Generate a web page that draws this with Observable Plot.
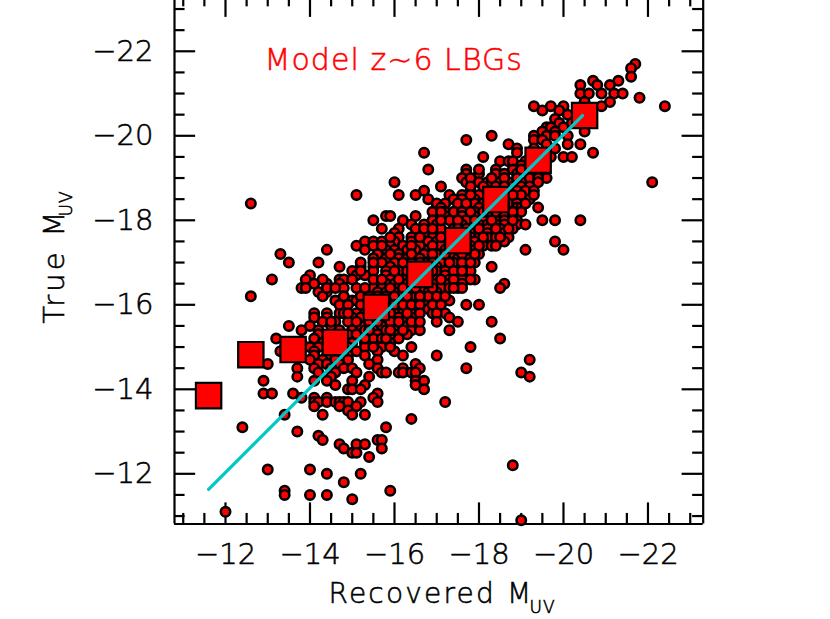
<!DOCTYPE html>
<html><head><meta charset="utf-8">
<script src="https://cdn.jsdelivr.net/npm/d3@7"></script>
<script src="https://cdn.jsdelivr.net/npm/@observablehq/plot@0.6"></script>
<style>
html,body{margin:0;padding:0;background:#fff}
svg{display:block}
svg text{font-weight:200;stroke:#000;stroke-width:.55px}
</style></head><body><div id="c"></div>
<script>
// Scatter: row of True M (tenths of a magnitude, negated) -> Recovered M values
const trueRows = [217,216,214,213,212,210,209,208,207,206,205,204,203,202,201,200,199,198,197,196,195,194,193,192,191,190,189,188,187,186,185,184,183,182,181,180,179,178,177,176,175,174,173,172,171,170,169,168,167,166,165,164,163,162,161,160,159,158,157,156,155,154,153,152,151,150,149,148,147,146,145,144,143,142,141,140,139,138,137,136,135,134,133,131,130,129,128,127,126,125,124,122,121,120,118,116,115,114,111,109];
const recoveredRows = [
[217],[216],[216],[207,213],[204,208,211],[204,206,209,212,214],[218],[205,211],[193,197,200,209,224],[195,199],[201,206],[198,205],[199,202],[196,197,200],[195,198,205],[183,193,196,198,201],[177,193,195],[187,196,201,204],[189,198,193],[167,189,207],[181,197,200,202],[185,187,188,191,194],[190,192,195],[168,177,184,188],[177,180,184,186,189,192],[176,192,196,194],[160,177,180,182,183,185,187,190,194,221],[171,188,190,192],[167,178,182,185,189,191,193],[151,161,165,173,176,180,183,187,190],[168,174,176,179,182,185,188,192],[126,170,172,175,179,181,184,187,189],[171,177,180,183,186,189,190,194],[169,172,174,176,179,182,185,187,190],[158,159,165,172,176,179,183,186,188],[155,162,169,173,177,181,184,186,189,195,198,204],[164,167,170,176,180,182,184,186,189,191],[157,161,165,171,174,177,179,182,185,188],[160,168,173,176,178,180,182,184,186],[161,164,169,172,175,178,180,182,184,187],[153,155,157,160,164,168,170,173,177,179,181,186,198],[151,159,162,166,171,175,178,181,183],[144,153,158,160,163,165,168,172,175,179,191,200],[133,156,161,167,170,174,177,180],[155,158,161,163,166,169,172,175,177],[135,142,157,160,164,167,171,174,179],[147,152,155,159,162,165,168,170,173,176,183],[150,155,158,161,164,167,170,172,174,178],[140,151,153,158,160,163,166,169,172],[131,139,147,148,159,162,165,168,170,173,176,179],[141,144,147,158,160,163,166,169,172,176,186],[138,139,148,151,155,157,161,164,167,171,173,175,176,185],[142,144,153,156,158,160,163,165,168,170],[126,143,154,156,159,161,163,165,168],[146,150,151,153,157,160,163,166,170,173],[154,158,161,163,165,167,177,180],[155,157,160,163,165,168],[141,144,147,148,151,153,156,158,160,162,164,169,172],[141,144,150,152,155,157,161,163,165,173],[143,146,149,154,158,160,162,175,183],[135,140,145,152,157,161,163],[138,142,150,153,155,158,160,164,166,173],[142,147,149,151,156,161,163],[132,141,144,147,155,157,159,161,185],[138,143,146,150,153,159],[140,142,145,149,153,157,164,178],[133,141,147,151,156,160],[141,144,146,149,153,162,170],[140,143,146,149,156,192],[130,142,144,147,154,165],[137,141,145,148,150,156,162,166,177],[142,146,151,157,158,161,162,164,165,190],[137,145,154,192],[129,141,144,150,165,167],[146,153,165],[149,150,152,167],[129,131,136,156],[138,141,144,155],[141,142,144,146,147,148,149,152,156,172],[141,147,151],[149],[134,143,150,153],[164],[124,158],[137],[142],[143,156,157],[147,151,153],[148,157],[150,151],[154],[188],[130,140],[144,152],[148],[134,159],[134,140,144],[150],[120],[190]
];
// Further points of the crowded core of the cloud
const coreTrue = [192,190,188,186,184,182,180,178,176,174,172,170,168,166,164,162,160,158,156,154,152,150];
const coreRecovered = [
[180,190,193],[178,183,186,189],[178,181,184,186],[178,185,188,193],[177,183,186,191],[171,178,181,184,188],[171,175,179,183,188],[167,169,175,180,184,187],[159,166,171,177,181,185],[155,157,164,169,173,177,180,184],[159,164,169,172,176,179],[152,155,162,166,169,173,176,178],[152,160,163,166,169,176],[143,150,155,157,161,164,167,171,174,178],[144,146,153,159,162,165,169,174],[148,152,158,160,163,166,170,172],[147,149,152,156,160,162,164,166,169,171],[149,155,159,163,166,170],[145,151,156,159,161,164,166,170],[147,154,159,162],[146,153,158],[147,155,159]
];
const binRecovered = [-11.6,-12.6,-13.6,-14.6,-15.57,-16.6,-17.5,-18.4,-19.4,-20.5];
const binTrue = [-13.85,-14.82,-14.94,-15.11,-15.94,-16.72,-17.52,-18.49,-19.42,-20.48];
const lineRecovered = [-11.6,-20.45];
const lineTrue = [-11.63,-20.48];
const majorTicks = [-12,-14,-16,-18,-20,-22];
const minorTicks = [-11,-11.5,-12.5,-13,-13.5,-14.5,-15,-15.5,-16.5,-17,-17.5,-18.5,-19,-19.5,-20.5,-21,-21.5,-22.5,-23];
const xDomain = [-10.793,-23.307];
const yDomain = [-10.812,-23.202];

const toPoints = (ts,rs)=>ts.flatMap((t,i)=>rs[i].map(r=>({r:-r/10,t:-t/10})));
const points = [...toPoints(trueRows,recoveredRows),...toPoints(coreTrue,coreRecovered)];
const bins = binRecovered.map((r,i)=>({r,t:binTrue[i]}));
const line = lineRecovered.map((r,i)=>({r,t:lineTrue[i]}));
const fmt = d=>"\u2212"+Math.abs(d);
const [xb,xt]=xDomain,[yb,yt]=yDomain;
const majorLen=0.5,minorLen=0.25,sw=2.2;
const font="'DejaVu Sans',sans-serif";
const plot = Plot.plot({
  width:830,height:619,marginLeft:174,marginRight:127.3,marginTop:0,marginBottom:95.5,
  style:{fontFamily:font,background:"#fff",color:"#000"},
  x:{domain:xDomain,axis:null},y:{domain:yDomain,axis:null},
  marks:[
    Plot.axisX({ticks:majorTicks,tickFormat:fmt,tickSize:0,tickPadding:19,fontSize:29,label:null,anchor:"bottom"}),
    Plot.axisY({ticks:majorTicks,tickFormat:fmt,tickSize:0,tickPadding:21,fontSize:29,label:null,anchor:"left"}),
    Plot.ruleY([yb],{stroke:"#000",strokeWidth:sw}),
    Plot.ruleX([xb,xt],{stroke:"#000",strokeWidth:sw}),
    Plot.ruleX(majorTicks,{y1:yb,y2:yb-majorLen,stroke:"#000",strokeWidth:sw}),
    Plot.ruleX(minorTicks,{y1:yb,y2:yb-minorLen,stroke:"#000",strokeWidth:sw}),
    Plot.ruleX(majorTicks,{y1:yt,y2:yt+majorLen-0.1,stroke:"#000",strokeWidth:sw}),
    Plot.ruleX(minorTicks,{y1:yt,y2:yt+minorLen-0.1,stroke:"#000",strokeWidth:sw}),
    Plot.ruleY(majorTicks,{x1:xb,x2:xb-majorLen,stroke:"#000",strokeWidth:sw}),
    Plot.ruleY(minorTicks,{x1:xb,x2:xb-minorLen,stroke:"#000",strokeWidth:sw}),
    Plot.ruleY(majorTicks,{x1:xt,x2:xt+majorLen,stroke:"#000",strokeWidth:sw}),
    Plot.ruleY(minorTicks,{x1:xt,x2:xt+minorLen,stroke:"#000",strokeWidth:sw}),
    Plot.dot(points,{x:"r",y:"t",r:4.7,fill:"#f00",stroke:"#000",strokeWidth:2.6}),
    Plot.dot(bins,{x:"r",y:"t",r:14.3,symbol:"square",fill:"#f00",stroke:"#000",strokeWidth:2.2}),
    Plot.line(line,{x:"r",y:"t",stroke:"#00c8c8",strokeWidth:3.2}),
    Plot.text(["Model z~6 LBGs"],{frameAnchor:"top-left",dx:90,dy:60,textAnchor:"start",lineAnchor:"middle",fontSize:30,fill:"#f00"}),
    Plot.text(["Recovered M"],{frameAnchor:"top-left",dx:154,dy:602,textAnchor:"start",lineAnchor:"bottom",fontSize:28,fill:"#000"}),
    Plot.text(["UV"],{frameAnchor:"top-left",dx:355,dy:612,textAnchor:"start",lineAnchor:"bottom",fontSize:17,fill:"#000"}),
    Plot.text(["True M"],{frameAnchor:"top-left",dx:-111,dy:323,rotate:-90,textAnchor:"start",lineAnchor:"bottom",fontSize:29,fill:"#000"}),
    Plot.text(["UV"],{frameAnchor:"top-left",dx:-103,dy:216,rotate:-90,textAnchor:"start",lineAnchor:"bottom",fontSize:17,fill:"#000"})
  ]
});
const spacing = {"Model z~6 LBGs":"1.05px","Recovered M":"2.2px","True M":"3.2px","UV":"1px"};
d3.select(plot).selectAll("text").each(function(){
  const s = spacing[this.textContent];
  if (s) this.style.letterSpacing = s;
  if (this.textContent.startsWith("Model")) this.style.stroke = "#f00";
});
document.getElementById("c").appendChild(plot);
</script></body></html>
